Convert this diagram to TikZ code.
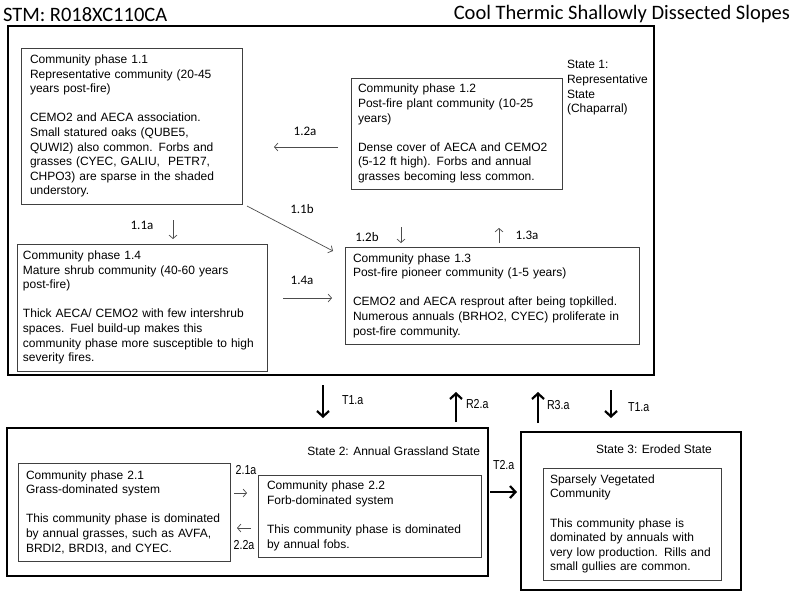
\documentclass[tikz,border=0pt]{standalone}
\usepackage{fontspec}
\setmainfont{Liberation Sans}
\newfontfamily\calib{Carlito}
\newfontfamily\narrowf{Liberation Sans}[FakeStretch=0.82]
\usetikzlibrary{arrows.meta,calc}
\begin{document}
\begin{tikzpicture}[x=1pt,y=-1pt,
  every node/.style={inner sep=0pt, outer sep=0pt},
  statebox/.style={draw, line width=2.4pt, anchor=north west},
  phasebox/.style={draw=black!75, line width=0.8pt, anchor=north west, align=left, inner ysep=0pt, font=\fontsize{12}{14.6}\selectfont},
  statelbl/.style={font=\fontsize{12}{14.6}\selectfont, align=left},
  smalllbl/.style={font=\calib\fontsize{13}{15}\selectfont},
  narrowlbl/.style={font=\narrowf\fontsize{13}{15}\selectfont},
  headlbl/.style={font=\calib\fontsize{20.5}{24}\selectfont},
  thinarr/.style={draw=black!70, line width=0.7pt, -{Straight Barb[length=3.5pt,width=8pt]}},
  thickarr/.style={draw=black, line width=2.2pt, -{Straight Barb[length=5.5pt,width=12pt]}},
]
\useasboundingbox (0,0) rectangle (800,600);
\fill[white] (0,0) rectangle (800,600);

% header
\node[headlbl, anchor=base west] (stm) at (3,21.5) {STM: R018XC110CA};
\node[headlbl, anchor=base east] (title) at (790,19.5) {Cool Thermic Shallowly Dissected Slopes};

% state boxes
\node[statebox, minimum width=646pt, minimum height=349pt] (s1) at (8,26) {};
\node[statebox, minimum width=481pt, minimum height=148pt] (s2) at (7,428) {};
\node[statebox, minimum width=220pt, minimum height=158pt] (s3) at (521,432) {};

% state labels
\node[statelbl, anchor=north west] (s1lbl) at (567,60.5) {State 1:\\Representative\\State\\(Chaparral)};
\node[statelbl, anchor=base east] (s2lbl) at (480,455.5) {State 2: Annual Grassland State};
\node[statelbl, anchor=base west] (s3lbl) at (596,453.5) {State 3: Eroded State};

% community phases
\node[phasebox, inner xsep=9pt, text width=203pt, minimum height=156pt] (p11) at (21,48)
 {Community phase 1.1\\Representative community (20-45\\years post-fire)\\[14.6pt]CEMO2 and AECA association.\\Small statured oaks (QUBE5,\\QUWI2) also common. Forbs and\\grasses (CYEC, GALIU,\ \ PETR7,\\CHPO3) are sparse in the shaded\\understory.};
\node[phasebox, inner xsep=7pt, text width=197pt, minimum height=111pt] (p12) at (351,78)
 {Community phase 1.2\\Post-fire plant community (10-25\\years)\\[14.6pt]Dense cover of AECA and CEMO2\\(5-12 ft high). Forbs and annual\\grasses becoming less common.};
\node[phasebox, inner xsep=8pt, text width=278pt, minimum height=97pt] (p13) at (345,247)
 {Community phase 1.3\\Post-fire pioneer community (1-5 years)\\[14.6pt]\mbox{CEMO2 and AECA resprout after being topkilled.}\\\mbox{Numerous annuals (BRHO2, CYEC) proliferate in}\\post-fire community.};
\node[phasebox, inner xsep=6pt, text width=238pt, minimum height=127pt] (p14) at (17,244)
 {Community phase 1.4\\Mature shrub community (40-60 years\\post-fire)\\[14.6pt]Thick AECA/ CEMO2 with few intershrub\\spaces. Fuel build-up makes this\\\mbox{community phase more susceptible to high}\\severity fires.};
\node[phasebox, inner xsep=8pt, text width=196pt, minimum height=98pt] (p21) at (18,463)
 {Community phase 2.1\\Grass-dominated system\\[14.6pt]\mbox{This community phase is dominated}\\by annual grasses, such as AVFA,\\BRDI2, BRDI3, and CYEC.};
\node[phasebox, inner xsep=9pt, text width=205pt, minimum height=82pt] (p22) at (258,475)
 {Community phase 2.2\\Forb-dominated system\\[14.6pt]This community phase is dominated\\by annual fobs.};
\node[phasebox, inner xsep=7pt, text width=164pt, minimum height=112pt] (p31) at (543,468)
 {Sparsely Vegetated\\Community\\[14.6pt]This community phase is\\dominated by annuals with\\\mbox{very low production. Rills and}\\small gullies are common.};

% thin arrows (within states)
\coordinate (a12a-s) at (338,147); \coordinate (a12a-e) at (274,147);
\draw[thinarr] (a12a-s) -- (a12a-e);
\node[smalllbl] (l12a) at (305,131) {1.2a};

\coordinate (a11b-s) at (247,206); \coordinate (a11b-e) at (333,251);
\draw[thinarr] (a11b-s) -- (a11b-e);
\node[smalllbl] (l11b) at (302,209) {1.1b};

\coordinate (a11a-s) at (173,220); \coordinate (a11a-e) at (173,239);
\draw[thinarr] (a11a-s) -- (a11a-e);
\node[smalllbl] (l11a) at (142,225) {1.1a};

\coordinate (a12b-s) at (401,227); \coordinate (a12b-e) at (401,243);
\draw[thinarr] (a12b-s) -- (a12b-e);
\node[smalllbl] (l12b) at (367,237) {1.2b};

\coordinate (a13a-s) at (499,243); \coordinate (a13a-e) at (499,228);
\draw[thinarr] (a13a-s) -- (a13a-e);
\node[smalllbl] (l13a) at (527,235) {1.3a};

\coordinate (a14a-s) at (283,298); \coordinate (a14a-e) at (332,298);
\draw[thinarr] (a14a-s) -- (a14a-e);
\node[smalllbl] (l14a) at (302,280) {1.4a};

\coordinate (a21a-s) at (234,493); \coordinate (a21a-e) at (247,493);
\draw[thinarr] (a21a-s) -- (a21a-e);
\node[narrowlbl] (l21a) at (246,470) {2.1a};

\coordinate (a22a-s) at (251,528); \coordinate (a22a-e) at (237,528);
\draw[thinarr] (a22a-s) -- (a22a-e);
\node[narrowlbl] (l22a) at (244,545) {2.2a};

% thick arrows (between states)
\coordinate (t1a-s) at (323,385); \coordinate (t1a-e) at (323,418);
\draw[thickarr] (t1a-s) -- (t1a-e);
\node[narrowlbl, anchor=west] (lt1a) at (342,400) {T1.a};

\coordinate (r2a-s) at (456,422); \coordinate (r2a-e) at (456,392);
\draw[thickarr] (r2a-s) -- (r2a-e);
\node[narrowlbl, anchor=west] (lr2a) at (466,404) {R2.a};

\coordinate (r3a-s) at (538,423); \coordinate (r3a-e) at (538,392);
\draw[thickarr] (r3a-s) -- (r3a-e);
\node[narrowlbl, anchor=west] (lr3a) at (547,405) {R3.a};

\coordinate (t1b-s) at (611,390); \coordinate (t1b-e) at (611,418);
\draw[thickarr] (t1b-s) -- (t1b-e);
\node[narrowlbl, anchor=west] (lt1b) at (628,407) {T1.a};

\coordinate (t2a-s) at (490,492); \coordinate (t2a-e) at (517,492);
\draw[thickarr] (t2a-s) -- (t2a-e);
\node[narrowlbl, anchor=west] (lt2a) at (493,465) {T2.a};
\end{tikzpicture}
\end{document}
